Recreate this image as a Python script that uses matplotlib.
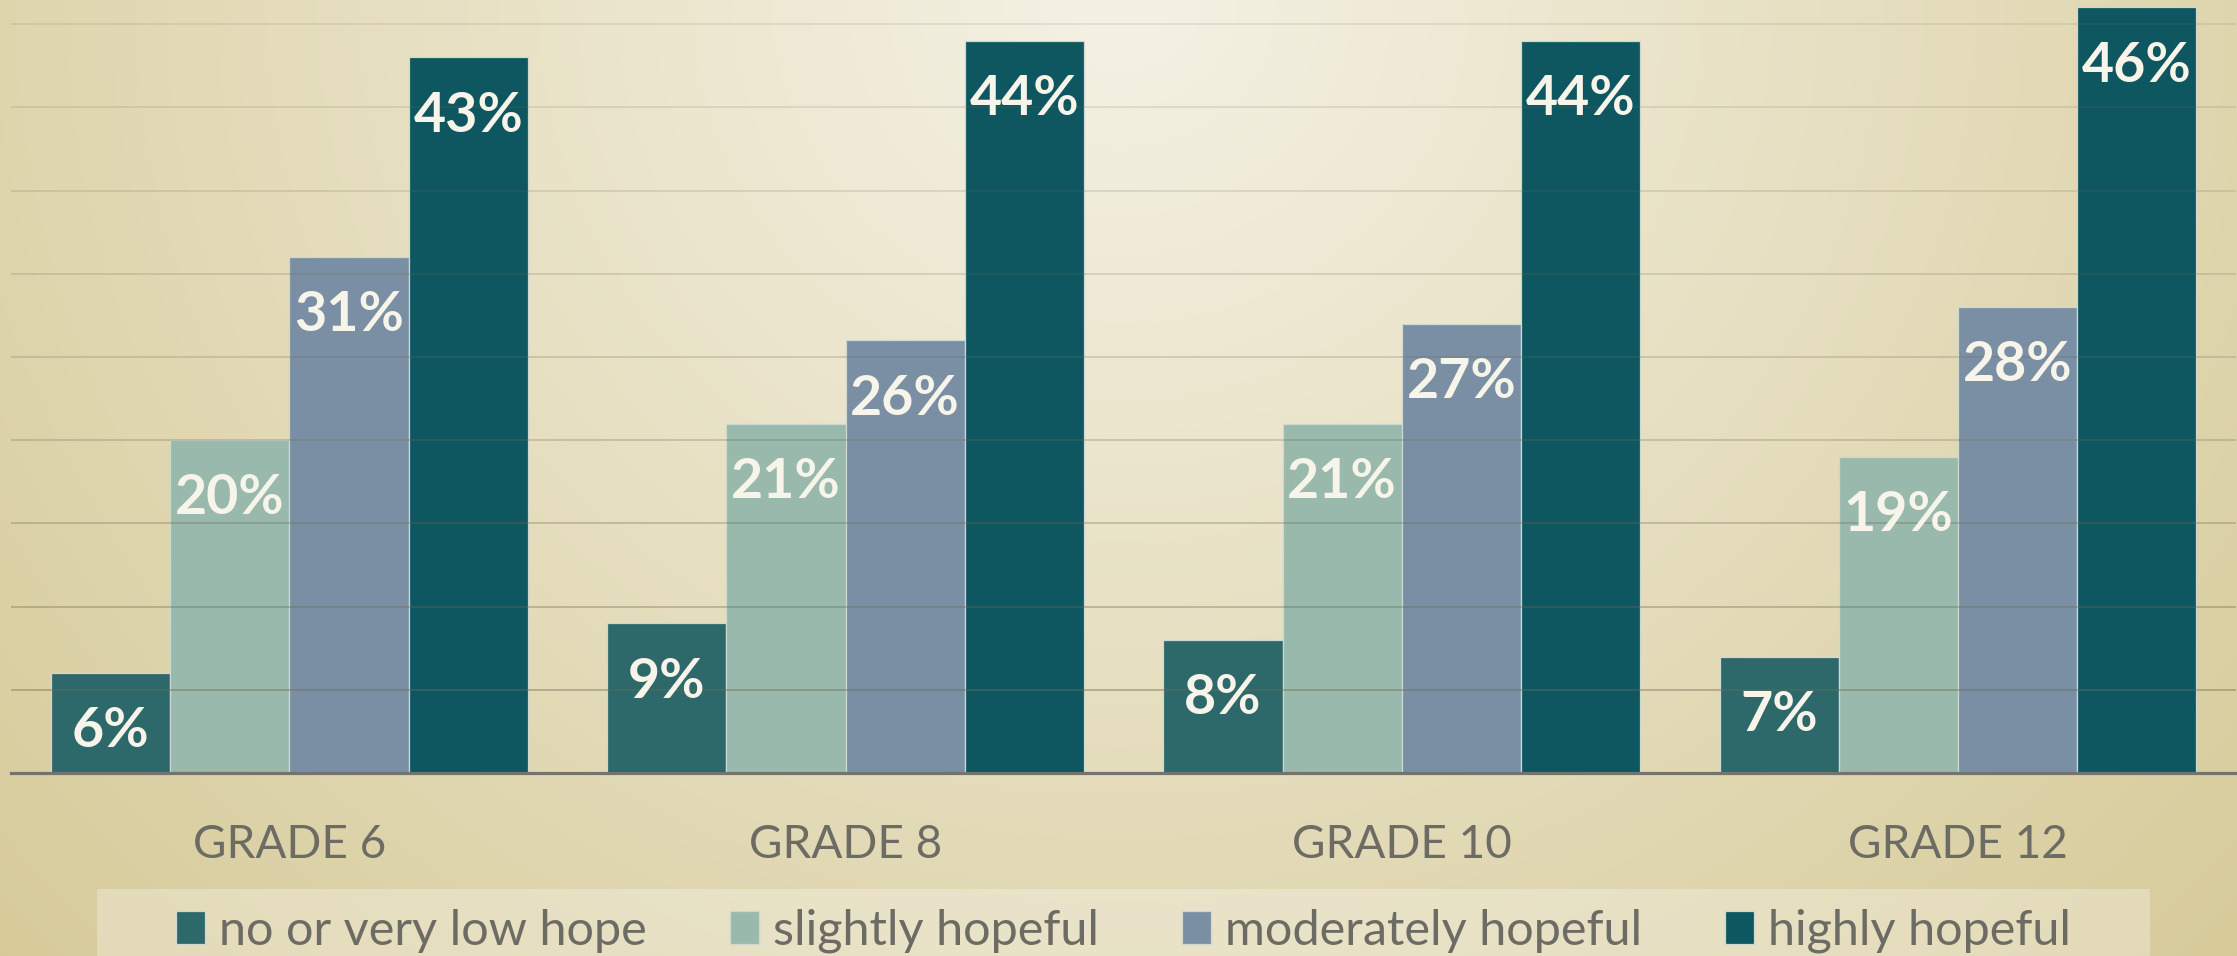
import numpy as np
import matplotlib
matplotlib.use("Agg")
import matplotlib.pyplot as plt
from matplotlib.patches import Patch, Rectangle
from matplotlib.colors import to_rgb

# ---------------- data ----------------
grades = ["GRADE 6", "GRADE 8", "GRADE 10", "GRADE 12"]
series_names = ["no or very low hope", "slightly hopeful", "moderately hopeful", "highly hopeful"]
no_hope = [6, 9, 8, 7]
slightly = [20, 21, 21, 19]
moderately = [31, 26, 27, 28]
highly = [43, 44, 44, 46]
series_values = [no_hope, slightly, moderately, highly]
series_colors = ["#2d686b", "#98b9ab", "#7a8fa3", "#0e5760"]
grid_values = [5, 10, 15, 20, 25, 30, 35, 40, 45]

W, H = 2237, 956
DPI = 100
plt.rcParams['font.family'] = ['Lato', 'DejaVu Sans']

fig = plt.figure(figsize=(W / DPI, H / DPI), dpi=DPI)

# ---------------- background gradient ----------------
bg = fig.add_axes([0, 0, 1, 1], zorder=-10)
yy, xx = np.mgrid[0:H, 0:W]
cx, cy, rx, ry = 1120.0, 0.0, 1400.0, 1300.0
t = np.sqrt(((xx - cx) / rx) ** 2 + ((yy - cy) / ry) ** 2)
frac = np.clip(0.82 * t, 0, 1)[..., None]
light = np.array(to_rgb("#f5f2e5"))
dark = np.array(to_rgb("#d3c690"))
img = light * (1 - frac) + dark * frac
bg.imshow(img, aspect="auto", extent=[0, 1, 0, 1], origin="upper")
bg.set_axis_off()

# ---------------- main axes ----------------
left_px, right_px = 11.4, 2236.0
base_px = 773.0
ax = fig.add_axes([left_px / W, (H - base_px) / H, (right_px - left_px) / W, base_px / H])
ax.patch.set_alpha(0)

n = len(series_values)
bw = 0.2143
x = np.arange(len(grades))
for i, (vals, col, name) in enumerate(zip(series_values, series_colors, series_names)):
    xs = x + (i - (n - 1) / 2) * bw
    ax.bar(xs, vals, width=bw, color=col, edgecolor="#cdd8d0", linewidth=0.9,
           label=name, zorder=2)
    for xi, v in zip(xs, vals):
        ax.annotate(f"{v}%", xy=(xi, v), xytext=(0, -53.5), textcoords="offset points",
                    ha="center", va="baseline", fontsize=40, fontweight="bold",
                    color="#f7f4ea", zorder=5)

ax.set_xlim(-0.5, 3.5)
ax.set_ylim(0, 46.45)

# gridlines (fade towards the top)
for gv in grid_values:
    a = 0.6 * np.exp(-gv / 35.0)
    ax.axhline(gv, color="#6f6a52", alpha=a, linewidth=1.1, zorder=3)

for s in ["top", "right", "left"]:
    ax.spines[s].set_visible(False)
ax.spines["bottom"].set_color("#75746c")
ax.spines["bottom"].set_linewidth(2.3)
ax.spines["bottom"].set_zorder(4)
ax.set_yticks([])
ax.set_xticks(x)
ax.set_xticklabels(grades, fontsize=33, color="#6d6c64")
ax.tick_params(axis="x", length=0, pad=61)
for lab in ax.get_xticklabels():
    lab.set_va("baseline")

# ---------------- legend ----------------
fig.patches.append(Rectangle((97 / W, 0), (2150 - 97) / W, (956 - 889) / H,
                             transform=fig.transFigure, facecolor="white", alpha=0.28,
                             edgecolor="none", zorder=-5))
handles = [Patch(facecolor=c, edgecolor="#cdd8d0", linewidth=0.9) for c in series_colors]
leg = fig.legend(handles, series_names, loc="center",
                 bbox_to_anchor=((97 + 2150) / 2 / W, (956 - 931) / H),
                 ncol=4, frameon=False, fontsize=35, handlelength=0.6, handleheight=0.68,
                 handletextpad=0.29, columnspacing=1.7, borderpad=0, borderaxespad=0)
for txt in leg.get_texts():
    txt.set_color("#6d6c64")

fig.savefig("out.png", dpi=DPI)
